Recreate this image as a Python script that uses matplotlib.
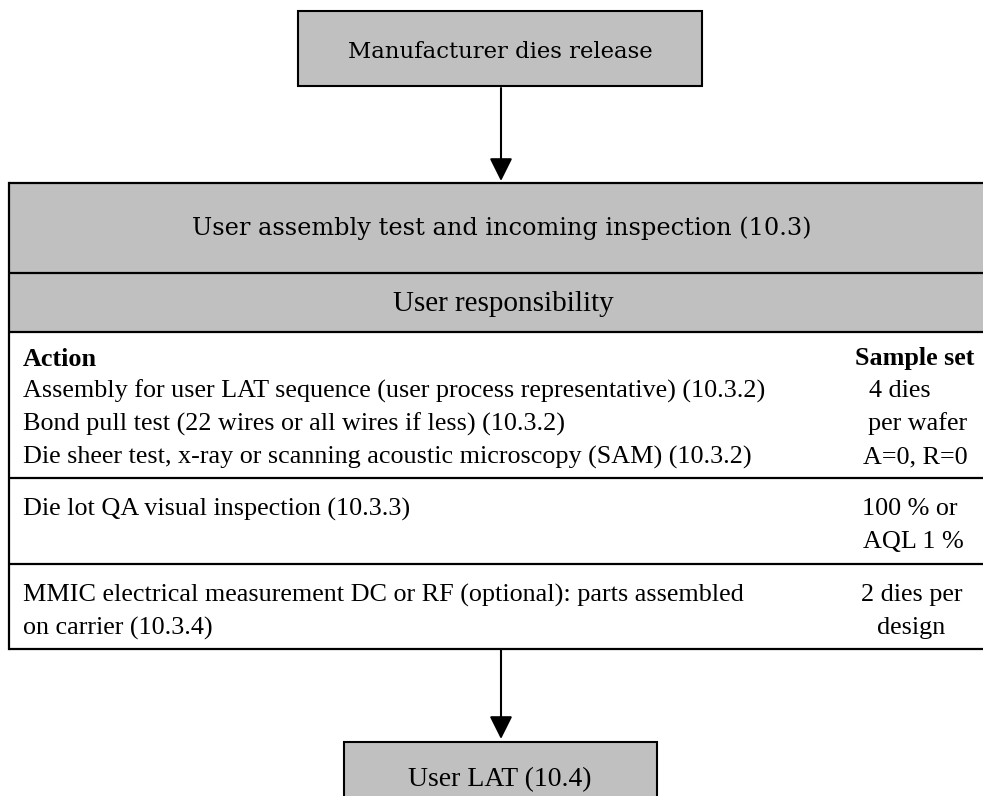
import matplotlib.pyplot as plt
from matplotlib.patches import Rectangle

# texts of the flow chart
top_step = "Manufacturer dies release"
main_step = "User assembly test and incoming inspection (10.3)"
responsibility = "User responsibility"
col_heads = ["Action", "Sample set"]
group1_actions = [
    "Assembly for user LAT sequence (user process representative) (10.3.2)",
    "Bond pull test (22 wires or all wires if less) (10.3.2)",
    "Die sheer test, x-ray or scanning acoustic microscopy (SAM) (10.3.2)",
]
group1_samples = ["4 dies", "per wafer", "A=0, R=0"]
group2_actions = ["Die lot QA visual inspection (10.3.3)"]
group2_samples = ["100 % or", "AQL 1 %"]
group3_actions = ["MMIC electrical measurement DC or RF (optional): parts assembled",
                  "on carrier (10.3.4)"]
group3_samples = ["2 dies per", "design"]
last_step = "User LAT (10.4)"

GRAY = "#c0c0c0"
BODY = "Liberation Serif"
HEAD = "DejaVu Serif"
FS = 18.8
W, H = 983, 796

fig = plt.figure(figsize=(W / 100, H / 100), dpi=100)
ax = fig.add_axes([0, 0, 1, 1])
ax.set_xlim(0, W)
ax.set_ylim(H, 0)
ax.axis("off")

# top box
ax.add_patch(Rectangle((298, 11), 404, 75, facecolor=GRAY, edgecolor="black", lw=1.5))
ax.text(500, 52, top_step, family=HEAD, fontsize=16.4, ha="center", va="center")

# big table, runs off the right edge
ax.add_patch(Rectangle((9, 183), 1000, 149, facecolor=GRAY, edgecolor="none"))
for y in [183, 273, 332, 478, 564, 649]:
    ax.plot([9, 1000], [y, y], color="black", lw=1.6, solid_capstyle="butt")
ax.plot([9, 9], [183, 649], color="black", lw=1.6)

ax.text(502, 228, main_step, family=HEAD, fontsize=17.3, ha="center", va="center")
ax.text(503, 304, responsibility, family=BODY, fontsize=21, ha="center", va="center")

xl = 23
ax.text(xl, 359, col_heads[0], family=BODY, fontsize=FS, weight="bold", va="center")
ax.text(855, 359, col_heads[1], family=BODY, fontsize=FS, weight="bold", va="center")

line_gap = 33
for i, s in enumerate(group1_actions):
    ax.text(xl, 391 + i * line_gap, s, family=BODY, fontsize=FS, va="center")
for i, s in enumerate(group2_actions):
    ax.text(xl, 509 + i * line_gap, s, family=BODY, fontsize=FS, va="center")
for i, s in enumerate(group3_actions):
    ax.text(xl, 595 + i * line_gap, s, family=BODY, fontsize=FS, va="center")

# sample column, slightly ragged as in the source
s1_x = [869, 868, 863]
s2_x = [862, 863]
s3_x = [861, 877]
for i, s in enumerate(group1_samples):
    ax.text(s1_x[i], 391 + i * line_gap, s, family=BODY, fontsize=FS, va="center")
for i, s in enumerate(group2_samples):
    ax.text(s2_x[i], 509 + i * line_gap, s, family=BODY, fontsize=FS, va="center")
for i, s in enumerate(group3_samples):
    ax.text(s3_x[i], 595 + i * line_gap, s, family=BODY, fontsize=FS, va="center")

# bottom box, runs off the bottom edge
ax.add_patch(Rectangle((344, 742), 313, 80, facecolor=GRAY, edgecolor="black", lw=1.5))
ax.text(500, 780, last_step, family=BODY, fontsize=20, ha="center", va="center")

# arrows
arrow = dict(arrowstyle="-|>,head_length=1.4,head_width=0.7", mutation_scale=10,
             color="black", lw=1.5, shrinkA=0, shrinkB=0)
ax.annotate("", xy=(501, 181), xytext=(501, 88), arrowprops=arrow)
ax.annotate("", xy=(501, 739), xytext=(501, 649), arrowprops=arrow)

fig.savefig("out.png", dpi=100)
